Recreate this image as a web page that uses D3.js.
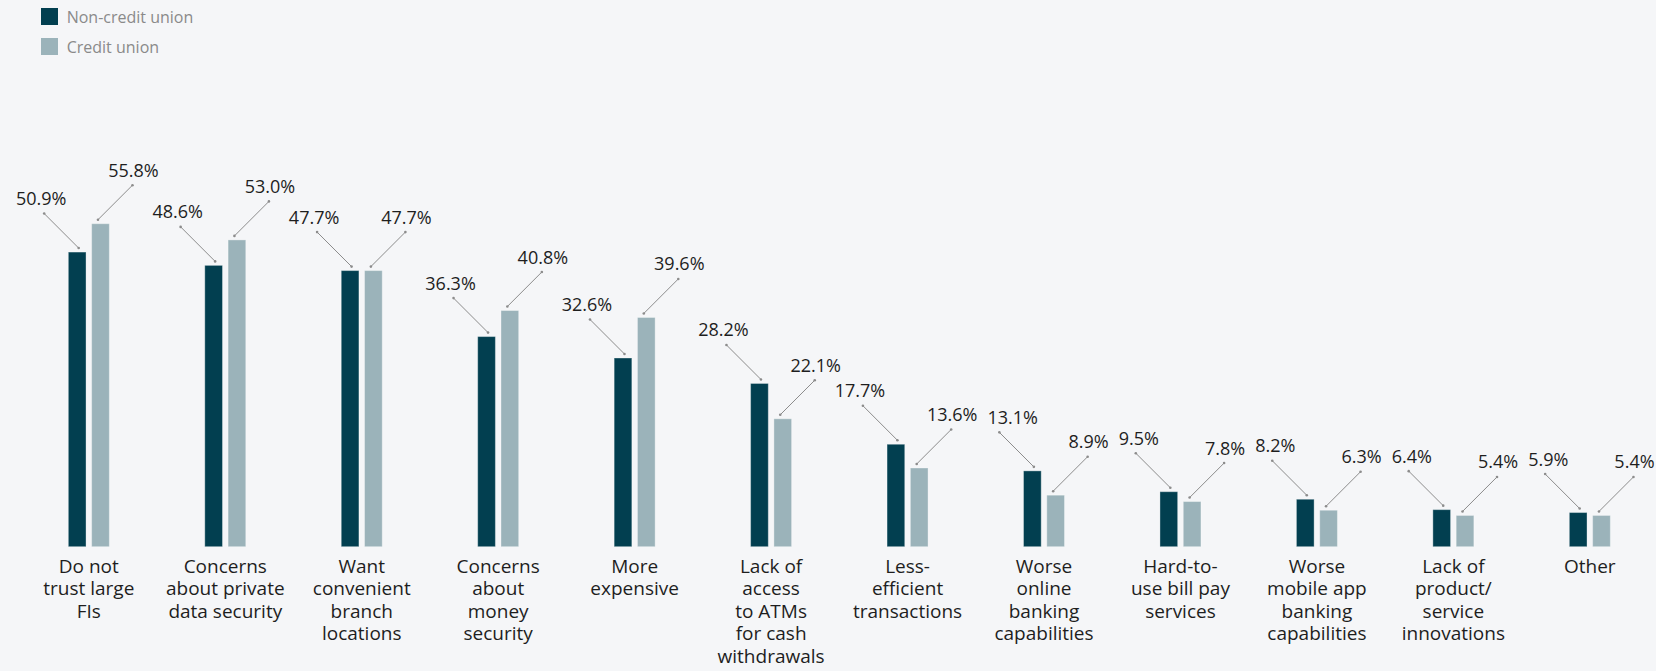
<!DOCTYPE html>
<html>
<head>
<meta charset="utf-8">
<script src="https://cdn.jsdelivr.net/npm/d3@7"></script>
<style>
  html, body { margin: 0; padding: 0; background: #f5f6f8; }
  svg { display: block; }
</style>
</head>
<body>
<svg id="chart" width="1656" height="671"></svg>
<script>
// Reasons given for choosing a bank, by credit-union membership (% of respondents)
const categories = [
  "Do not\ntrust large\nFIs",
  "Concerns\nabout private\ndata security",
  "Want\nconvenient\nbranch\nlocations",
  "Concerns\nabout\nmoney\nsecurity",
  "More\nexpensive",
  "Lack of\naccess\nto ATMs\nfor cash\nwithdrawals",
  "Less-\nefficient\ntransactions",
  "Worse\nonline\nbanking\ncapabilities",
  "Hard-to-\nuse bill pay\nservices",
  "Worse\nmobile app\nbanking\ncapabilities",
  "Lack of\nproduct/\nservice\ninnovations",
  "Other"
];
const seriesNames = ["Non-credit union", "Credit union"];
const nonCreditUnion = [50.9, 48.6, 47.7, 36.3, 32.6, 28.2, 17.7, 13.1, 9.5, 8.2, 6.4, 5.9];
const creditUnion    = [55.8, 53.0, 47.7, 40.8, 39.6, 22.1, 13.6, 8.9, 7.8, 6.3, 5.4, 5.4];

const colors = ["#023f50", "#9bb3ba"];
const FONT = "'Open Sans', sans-serif";

const svg = d3.select("#chart");
const W = 1656, H = 671;

svg.append("rect").attr("width", W).attr("height", H).attr("fill", "#f5f6f8");

// Scales
const x = d3.scaleBand().domain(categories).range([20.6, 1521.6 + 136.45]).paddingInner(0).paddingOuter(0);
const barW = 17.7, barGap = 5.6;
const xs = d3.scaleOrdinal().domain(seriesNames)
  .range([-(barGap / 2) - barW, barGap / 2]);
const y = d3.scaleLinear().domain([0, 55.8]).range([546.7, 223.7]);

const rows = categories.map((c, i) => ({
  cat: c,
  i: i,
  vals: [
    { s: seriesNames[0], v: nonCreditUnion[i], k: 0, i: i },
    { s: seriesNames[1], v: creditUnion[i], k: 1, i: i }
  ]
}));

const groups = svg.append("g").selectAll("g")
  .data(rows).join("g")
  .attr("transform", d => `translate(${x(d.cat) + x.bandwidth() / 2},0)`);

// Bars
groups.selectAll("rect")
  .data(d => d.vals).join("rect")
  .attr("x", d => xs(d.s))
  .attr("width", barW)
  .attr("y", d => y(d.v))
  .attr("height", d => y(0) - y(d.v))
  .attr("fill", d => colors[d.k])
  .attr("stroke", "#ffffff")
  .attr("stroke-opacity", 0.35)
  .attr("stroke-width", 1);

// Value callouts: diagonal leader line with a small dot at each end
const lead = 34.5;
const callout = groups.selectAll("g.callout")
  .data(d => d.vals).join("g").attr("class", "callout");

function ends(d) {
  const cx = xs(d.s) + barW / 2;
  const ex = cx + (d.k === 0 ? 1.5 : -2.5);
  const ey = y(d.v) - 4;
  const dir = d.k === 0 ? -1 : 1;
  return { ex, ey, sx: ex + dir * lead, sy: ey - lead };
}

callout.append("line")
  .attr("x1", d => ends(d).sx).attr("y1", d => ends(d).sy)
  .attr("x2", d => ends(d).ex).attr("y2", d => ends(d).ey)
  .attr("stroke", "#8c8c8c").attr("stroke-width", 1);
callout.append("circle")
  .attr("cx", d => ends(d).sx).attr("cy", d => ends(d).sy).attr("r", 1.3).attr("fill", "#8c8c8c");
callout.append("circle")
  .attr("cx", d => ends(d).ex).attr("cy", d => ends(d).ey).attr("r", 1.3).attr("fill", "#8c8c8c");
const valueText = callout.append("text")
  .attr("x", d => ends(d).sx + (d.k === 0 ? -3 : 1))
  .attr("y", d => ends(d).sy - 8.5)
  .attr("text-anchor", "middle")
  .attr("font-family", FONT)
  .attr("font-size", 18)
  .attr("fill", "#1e1e1e")
  .text(d => d.v.toFixed(1) + "%");

// Nudge a left-hand label to the right when it would collide with the
// right-hand label of the previous group
const lightRight = {};
valueText.filter(d => d.k === 1).each(function (d) {
  const b = this.getBBox();
  const gx = x(categories[d.i]) + x.bandwidth() / 2;
  lightRight[d.i] = { right: gx + b.x + b.width, top: b.y, bottom: b.y + b.height };
});
valueText.filter(d => d.k === 0 && d.i > 0).each(function (d) {
  const prev = lightRight[d.i - 1];
  const b = this.getBBox();
  const gx = x(categories[d.i]) + x.bandwidth() / 2;
  const left = gx + b.x;
  const vOverlap = b.y < prev.bottom && b.y + b.height > prev.top;
  const minGap = 10;
  if (vOverlap && left < prev.right + minGap) {
    const shift = prev.right + minGap - left;
    d3.select(this).attr("x", +d3.select(this).attr("x") + shift);
  }
});

// Category labels
const labels = svg.append("g").selectAll("text")
  .data(categories).join("text")
  .attr("x", d => x(d) + x.bandwidth() / 2)
  .attr("y", 572.7)
  .attr("text-anchor", "middle")
  .attr("font-family", FONT)
  .attr("font-size", 19)
  .attr("fill", "#1e1e1e");
labels.selectAll("tspan")
  .data(d => d.split("\n")).join("tspan")
  .attr("x", function () { return d3.select(this.parentNode).attr("x"); })
  .attr("dy", (d, i) => i === 0 ? 0 : 22.5)
  .text(d => d);

// Legend
const legend = svg.append("g").selectAll("g")
  .data(seriesNames).join("g")
  .attr("transform", (d, i) => `translate(41,${8 + i * 30})`);
legend.append("rect")
  .attr("width", 17).attr("height", 17)
  .attr("fill", (d, i) => colors[i]);
legend.append("text")
  .attr("x", 25.7).attr("y", 14.5)
  .attr("font-family", FONT)
  .attr("font-size", 16)
  .attr("fill", "#8a8a8a")
  .text(d => d);
</script>
</body>
</html>
